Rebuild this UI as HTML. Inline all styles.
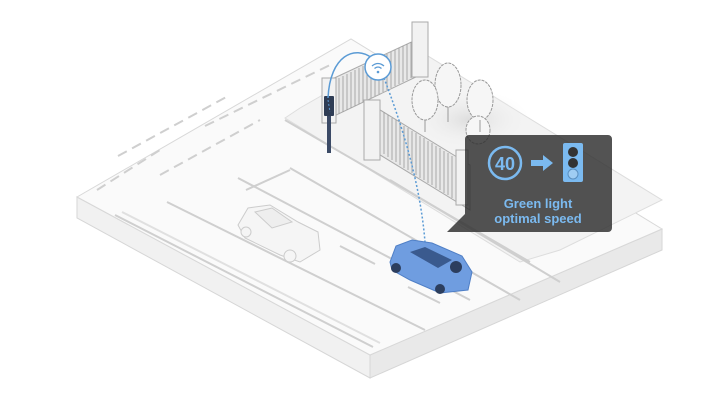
<!DOCTYPE html>
<html><head><meta charset="utf-8"><style>
html,body{margin:0;padding:0;background:#fff;width:720px;height:405px;overflow:hidden}
svg{display:block}
</style></head><body>
<svg width="720" height="405" viewBox="0 0 720 405" xmlns="http://www.w3.org/2000/svg" font-family="Liberation Sans, sans-serif">
<defs>
<radialGradient id="sh" cx="50%" cy="50%" r="50%"><stop offset="0" stop-color="#ddd"/><stop offset="1" stop-color="#f4f4f4" stop-opacity="0"/></radialGradient>
</defs>
<polygon points="77,197 370,355 370,378 77,218" fill="#f1f1f1" stroke="#d6d6d6" stroke-width="1"/>
<polygon points="370,355 662,229 662,250 370,378" fill="#e9e9e9" stroke="#d6d6d6" stroke-width="1"/>
<polygon points="77,197 351,39 662,229 370,355" fill="#fafafa" stroke="#d8d8d8" stroke-width="1"/>
<polygon points="285,118 300,108 410,45 662,200 560,250 520,262" fill="#f3f3f3" stroke="#ddd"/>
<ellipse cx="470" cy="120" rx="60" ry="30" fill="url(#sh)"/>
<g stroke="#cfcfcf" stroke-width="2" fill="none">
<path d="M285,120 L530,262"/>
<line x1="115" y1="215" x2="373" y2="347"/>
<line x1="122" y1="212" x2="380" y2="343" stroke="#e0e0e0"/>
<line x1="167" y1="202" x2="425" y2="330"/>
<line x1="238" y1="178" x2="470" y2="300"/>
<line x1="246" y1="190" x2="290" y2="170"/>
<line x1="340" y1="246" x2="375" y2="264"/>
<line x1="408" y1="287" x2="440" y2="303"/>
<line x1="290" y1="168" x2="520" y2="300"/>
<line x1="390" y1="180" x2="560" y2="282"/>
<line x1="97" y1="190" x2="160" y2="150" stroke-dasharray="10,6"/>
<line x1="160" y1="175" x2="260" y2="120" stroke-dasharray="10,6"/>
<line x1="118" y1="156" x2="230" y2="95" stroke-dasharray="10,6"/>
<line x1="205" y1="126" x2="330" y2="65" stroke-dasharray="10,6"/>
</g>
<g stroke="#aaa" stroke-width="1" fill="#e8e8e8">
<polygon points="330,80 420,38 420,75 330,118"/>
<polygon points="372,105 470,165 470,210 372,150"/>
</g>
<g stroke="#999" stroke-width="0.8">
<path d="M335,80v36M339,78v36M343,76v36M347,74v36M351,72v36M355,70v36M359,68v36M363,66v36M367,64v36M371,62v36M375,60v36M379,58v36M383,56v36M387,54v36M391,52v36M395,50v36M399,48v36M403,46v36M407,44v36M411,42v36M415,40v36"/>
<path d="M380,110v42M384,112v42M388,115v42M392,118v42M396,120v42M400,123v42M404,126v42M408,128v42M412,131v42M416,133v42M420,136v42M424,138v42M428,141v42M432,143v42M436,146v42M440,148v42M444,151v42M448,153v42M452,156v42M456,158v42M460,161v42"/>
</g>
<g fill="#f2f2f2" stroke="#aaa">
<rect x="412" y="22" width="16" height="55"/>
<rect x="364" y="100" width="16" height="60"/>
<rect x="322" y="78" width="14" height="45"/>
<rect x="456" y="150" width="12" height="55"/>
</g>
<g fill="#f6f6f6" stroke="#999" stroke-dasharray="3,1">
<ellipse cx="448" cy="85" rx="13" ry="22"/>
<ellipse cx="425" cy="100" rx="13" ry="20"/>
<ellipse cx="480" cy="100" rx="13" ry="20"/>
<ellipse cx="478" cy="130" rx="12" ry="14"/>
</g>
<g stroke="#999"><line x1="448" y1="107" x2="448" y2="122"/><line x1="425" y1="120" x2="425" y2="132"/><line x1="480" y1="120" x2="480" y2="132"/></g>
<rect x="327" y="110" width="4" height="43" fill="#3b4a66"/>
<rect x="324" y="96" width="10" height="20" rx="1" fill="#2f3d55"/>
<path d="M328,98 C330,55 355,45 372,58" fill="none" stroke="#5b9bd5" stroke-width="1.5"/>
<path d="M328,100 L330,112" stroke="#5b9bd5" stroke-dasharray="2,2"/>
<path d="M384,78 C400,120 420,180 425,242" fill="none" stroke="#5b9bd5" stroke-width="1.5" stroke-dasharray="2,2"/>
<circle cx="378" cy="67" r="13" fill="#fff" stroke="#5b9bd5" stroke-width="1.5"/>
<path d="M372,66 q6,-5 12,0 M374.5,68.5 q3.5,-3 7,0" fill="none" stroke="#5b9bd5" stroke-width="1.3"/>
<circle cx="378" cy="72" r="1.3" fill="#5b9bd5"/>
<g stroke="#ccc" fill="#f5f5f5">
<path d="M238,225 L248,208 L270,205 L298,222 L318,232 L320,250 L300,262 L280,255 L245,238 Z"/>
<path d="M255,212 L272,208 L292,222 L272,228 Z" fill="#eee"/>
<circle cx="246" cy="232" r="5"/><circle cx="290" cy="256" r="6"/>
</g>
<g>
<path d="M390,262 L396,246 L412,240 L432,243 L462,256 L472,272 L468,290 L440,293 L410,280 L392,270 Z" fill="#6f9de0" stroke="#4f7fc6"/>
<path d="M410,252 L425,247 L452,260 L438,268 Z" fill="#3a5a8e"/>
<circle cx="456" cy="267" r="6" fill="#2c3e5e"/>
<circle cx="396" cy="268" r="5" fill="#2c3e5e"/><circle cx="440" cy="289" r="5" fill="#2c3e5e"/>
</g>
<path d="M469,135 H608 a4,4 0 0 1 4,4 V228 a4,4 0 0 1 -4,4 H447 L465,214 V139 a4,4 0 0 1 4,-4 Z" fill="rgba(45,45,45,0.82)"/>
<circle cx="505" cy="163" r="16" fill="none" stroke="#7bbaf0" stroke-width="2.5"/>
<text x="505" y="170" text-anchor="middle" font-size="18" font-weight="bold" fill="#7bbaf0">40</text>
<rect x="531" y="160" width="12" height="6" fill="#7bbaf0"/>
<polygon points="543,155 553,163 543,171" fill="#7bbaf0"/>
<rect x="563" y="143" width="20" height="39" rx="2" fill="#7bbaf0"/>
<circle cx="573" cy="152" r="5" fill="#333"/><circle cx="573" cy="163" r="5" fill="#333"/><circle cx="573" cy="174" r="5" fill="#9fcdf3" stroke="#5a8fbf"/>
<text x="538" y="208" text-anchor="middle" font-size="13" font-weight="bold" fill="#7bbaf0">Green light</text>
<text x="538" y="223" text-anchor="middle" font-size="13" font-weight="bold" fill="#7bbaf0">optimal speed</text>
</svg>
</body></html>
